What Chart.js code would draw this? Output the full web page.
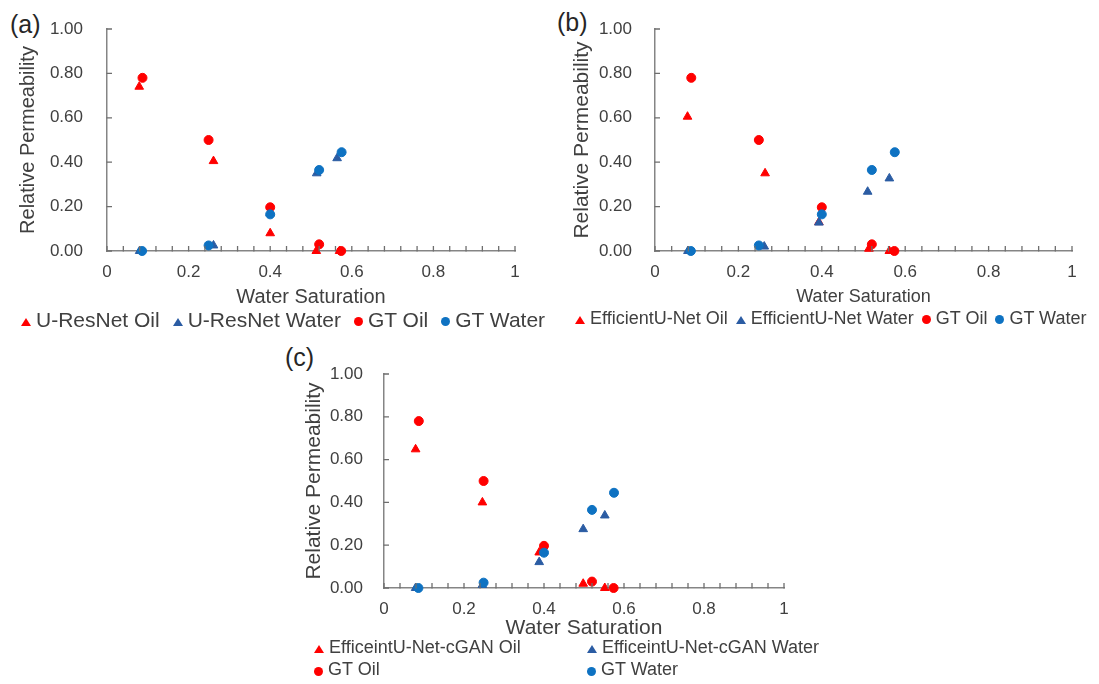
<!DOCTYPE html>
<html>
<head>
<meta charset="utf-8">
<title>Relative Permeability vs Water Saturation</title>
<script src="https://cdn.jsdelivr.net/npm/chart.js@4.4.1/dist/chart.umd.min.js"></script>
<style>
  body { margin: 0; background: #fff; font-family: 'Liberation Sans', Arial, sans-serif; color: #404040; }
  #page { position: relative; width: 1099px; height: 684px; overflow: hidden; }
  canvas { position: absolute; }
  .tag { position: absolute; font-size: 25px; line-height: 30px; color: #262626; }
  .legend { position: absolute; display: flex; align-items: center; white-space: nowrap; color: #404040; }
  .legend .item { display: flex; align-items: center; }
  .mk-tri { width: 0; height: 0; border-left: 5px solid transparent; border-right: 5px solid transparent; border-bottom: 8px solid; margin-top: 3px; }
  .mk-dot { width: 9px; height: 9px; border-radius: 50%; margin-top: 3px; }
</style>
</head>
<body>
<div id="page">
  <div class="tag" style="left:10px; top:9px;">(a)</div>
  <div class="tag" style="left:557px; top:7px;">(b)</div>
  <div class="tag" style="left:285px; top:342px;">(c)</div>

  <canvas id="chartA" width="530" height="313" style="left:0px; top:0px;"></canvas>
  <canvas id="chartB" width="537" height="313" style="left:550px; top:0px;"></canvas>
  <canvas id="chartC" width="530" height="304" style="left:270px; top:340px;"></canvas>

  <div class="legend" id="legendA" style="left:21px; top:308px; height:24px; font-size:21px; gap:13px;"></div>
  <div class="legend" id="legendB" style="left:575px; top:307px; height:22px; font-size:18px; gap:8px;"></div>
  <div class="legend" id="legendC" style="left:314px; top:637px; font-size:18px; display:grid; grid-template-columns:273px auto; row-gap:1px;"></div>
</div>

<script>
// tick labels
const xTickLabels = ['0', '0.2', '0.4', '0.6', '0.8', '1'];
const yTickLabels = ['0.00', '0.20', '0.40', '0.60', '0.80', '1.00'];

// ground truth (same in all three panels)
const gtOilSw = [0.087, 0.249, 0.400, 0.520, 0.574];
const gtOilKr = [0.78, 0.50, 0.197, 0.03, 0.0];
const gtWaterSw = [0.086, 0.249, 0.400, 0.520, 0.575];
const gtWaterKr = [0.0, 0.025, 0.165, 0.365, 0.445];

// (a) U-ResNet
const resnetOilSw = [0.079, 0.261, 0.400, 0.513, 0.570];
const resnetOilKr = [0.74, 0.405, 0.08, 0.0, 0.0];
const resnetWaterSw = [0.080, 0.261, 0.400, 0.514, 0.564];
const resnetWaterKr = [0.0, 0.025, 0.17, 0.35, 0.418];

// (b) EfficientU-Net
const effOilSw = [0.078, 0.264, 0.393, 0.513, 0.562];
const effOilKr = [0.605, 0.35, 0.13, 0.01, 0.0];
const effWaterSw = [0.079, 0.262, 0.393, 0.510, 0.562];
const effWaterKr = [0.0, 0.02, 0.128, 0.267, 0.327];

// (c) EfficeintU-Net-cGAN
const ganOilSw = [0.079, 0.246, 0.388, 0.498, 0.552];
const ganOilKr = [0.648, 0.40, 0.166, 0.02, 0.0];
const ganWaterSw = [0.079, 0.246, 0.388, 0.498, 0.552];
const ganWaterKr = [0.0, 0.014, 0.121, 0.275, 0.339];

const RED = '#FF0000';
const BLUE_DOT = '#0E72C2';
const BLUE_TRI = '#2B5CA3';
const AXIS_GREY = '#858585';
const TEXT = '#404040';

Chart.defaults.font.family = "'Liberation Sans', Arial, sans-serif";
Chart.defaults.color = TEXT;

// small tick marks pointing into the plot, placed from the scales' own ticks
const innerTicks = {
  id: 'innerTicks',
  afterDraw(chart) {
    const ctx = chart.ctx;
    const x = chart.scales.x;
    const y = chart.scales.y;
    ctx.save();
    ctx.strokeStyle = '#6E6E6E';
    ctx.lineWidth = 1.3;
    ctx.beginPath();
    x.ticks.forEach(t => {
      const px = x.getPixelForValue(t.value);
      ctx.moveTo(px, y.bottom + 0.5);
      ctx.lineTo(px, y.bottom - 5);
    });
    y.ticks.forEach(t => {
      const py = y.getPixelForValue(t.value);
      ctx.moveTo(x.left - 0.5, py);
      ctx.lineTo(x.left + 5, py);
    });
    ctx.stroke();
    ctx.restore();
  }
};

function pts(xs, ys) {
  return xs.map((x, i) => ({ x: x, y: ys[i] }));
}

function xLabelFor(v) {
  const i = Math.round(v / 0.2);
  return Math.abs(v - i * 0.2) < 1e-6 ? xTickLabels[i] : '';
}

function buildSeries(predName, oilSw, oilKr, waterSw, waterKr) {
  return [
    { label: predName + ' Oil', data: pts(oilSw, oilKr), pointStyle: 'triangle', color: RED, radius: 5, order: 3 },
    { label: predName + ' Water', data: pts(waterSw, waterKr), pointStyle: 'triangle', color: BLUE_TRI, radius: 5, order: 2 },
    { label: 'GT Oil', data: pts(gtOilSw, gtOilKr), pointStyle: 'circle', color: RED, radius: 4.5, order: 1 },
    { label: 'GT Water', data: pts(gtWaterSw, gtWaterKr), pointStyle: 'circle', color: BLUE_DOT, radius: 4.5, order: 0 }
  ];
}

function makeChart(id, series, g) {
  const ctx = document.getElementById(id).getContext('2d');
  return new Chart(ctx, {
    type: 'scatter',
    data: {
      datasets: series.map(s => ({
        label: s.label,
        data: s.data,
        pointStyle: s.pointStyle,
        backgroundColor: s.color,
        borderColor: s.color,
        borderWidth: 1,
        pointRadius: s.radius,
        order: s.order,
        clip: false
      }))
    },
    options: {
      responsive: false,
      animation: false,
      events: [],
      layout: { padding: { left: 0, top: g.top, right: g.right, bottom: 0 } },
      plugins: { legend: { display: false }, tooltip: { enabled: false } },
      scales: {
        x: {
          type: 'linear', min: 0, max: 1,
          border: { color: AXIS_GREY, width: 1.5 },
          // grid hidden; tickLength only spaces the labels from the axis
          grid: { display: false, drawTicks: true, tickLength: 8 },
          ticks: { stepSize: 0.04, autoSkip: false, maxRotation: 0, padding: 3, font: { size: 17 }, color: TEXT, callback: v => xLabelFor(v) },
          title: { display: true, text: 'Water Saturation', font: { size: g.xTitleSize }, padding: { top: 0, bottom: g.xTitlePad }, color: TEXT },
          afterFit: s => { s.height = g.xHeight; }
        },
        y: {
          type: 'linear', min: 0, max: 1,
          border: { color: AXIS_GREY, width: 1.5 },
          grid: { display: false, drawTicks: true, tickLength: g.yLabelGap - 4 },
          ticks: { stepSize: 0.2, padding: 4, font: { size: 17 }, color: TEXT, callback: v => yTickLabels[Math.round(v / 0.2)] },
          title: { display: true, text: 'Relative Permeability', font: { size: g.yTitleSize }, padding: { top: g.yTitlePad, bottom: 0 }, color: TEXT },
          afterFit: s => { s.width = g.yWidth; }
        }
      }
    },
    plugins: [innerTicks]
  });
}

function makeLegend(id, series) {
  const box = document.getElementById(id);
  series.forEach(s => {
    const item = document.createElement('div');
    item.className = 'item';
    const mk = document.createElement('span');
    if (s.pointStyle === 'triangle') {
      mk.className = 'mk-tri';
      mk.style.borderBottomColor = s.color;
    } else {
      mk.className = 'mk-dot';
      mk.style.background = s.color;
    }
    mk.style.marginRight = '5px';
    const txt = document.createElement('span');
    txt.textContent = s.label;
    item.appendChild(mk);
    item.appendChild(txt);
    box.appendChild(item);
  });
}

const seriesA = buildSeries('U-ResNet', resnetOilSw, resnetOilKr, resnetWaterSw, resnetWaterKr);
const seriesB = buildSeries('EfficientU-Net', effOilSw, effOilKr, effWaterSw, effWaterKr);
const seriesC = buildSeries('EfficeintU-Net-cGAN', ganOilSw, ganOilKr, ganWaterSw, ganWaterKr);

makeChart('chartA', seriesA, { top: 29, right: 15, yWidth: 107, xHeight: 62, yLabelGap: 24, yTitleSize: 20, yTitlePad: 16, xTitleSize: 20, xTitlePad: 4 });
makeChart('chartB', seriesB, { top: 29, right: 15, yWidth: 105, xHeight: 62, yLabelGap: 23, yTitleSize: 21, yTitlePad: 20, xTitleSize: 18, xTitlePad: 5 });
makeChart('chartC', seriesC, { top: 34, right: 16, yWidth: 114, xHeight: 56, yLabelGap: 21, yTitleSize: 21, yTitlePad: 32, xTitleSize: 21, xTitlePad: 3 });

makeLegend('legendA', seriesA);
makeLegend('legendB', seriesB);
makeLegend('legendC', seriesC);
</script>
</body>
</html>
